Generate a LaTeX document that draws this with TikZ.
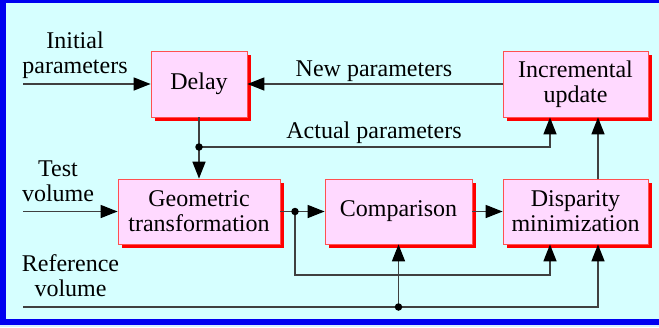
\documentclass[tikz,border=0pt]{standalone}
\usepackage{fontspec}
\setmainfont{LiberationSerif-Regular.ttf}[BoldFont=LiberationSerif-Bold.ttf]
\usetikzlibrary{arrows.meta,shadows}
\definecolor{bgcyan}{RGB}{214,255,255}
\definecolor{pagetint}{RGB}{214,240,255}
\definecolor{boxpink}{RGB}{255,217,255}
\definecolor{frameblue}{RGB}{0,0,240}
\definecolor{edgered}{RGB}{255,80,80}
\definecolor{wirecol}{RGB}{64,64,64}
\begin{document}
\begin{tikzpicture}[x=1pt,y=-1pt,
  txt/.style={font=\rmfamily\fontsize{24}{25}\selectfont, align=center, inner sep=0pt},
  block/.style={txt, draw=edgered, line width=0.8pt, fill=boxpink,
    general shadow={fill=red, shadow xshift=4pt, shadow yshift=-4pt}},
  wire/.style={draw=wirecol, line width=1.5pt},
  flow/.style={wire, -{Triangle[length=17pt,width=13pt,color=black]}},
  junction/.style={circle, fill=black, inner sep=0pt, minimum size=7.5pt}
]
% page and framed panel
\useasboundingbox (0,0) rectangle (659,327);
\fill[pagetint] (0,0) rectangle (659,327);
\fill[frameblue] (0,0) rectangle (659,325);
\fill[bgcyan] (6,3) rectangle (659,319);

% processing blocks
\node[block, minimum width=96pt, minimum height=66pt]  (delay) at (199,84) {Delay};
\node[block, minimum width=145pt, minimum height=66pt] (incr)  at (575.5,84) {Incremental\\update};
\node[block, minimum width=162pt, minimum height=65pt] (geom)  at (199,211.5) {Geometric\\transformation};
\node[block, minimum width=147pt, minimum height=65pt] (comp)  at (398.5,211.5) {Comparison};
\node[block, minimum width=145pt, minimum height=65pt] (disp)  at (575.5,211.5) {Disparity\\minimization};

% free labels
\node[txt] (initlbl) at (75,55.5) {Initial\\parameters};
\node[txt, anchor=base] (newlbl) at (374,76) {New parameters};
\node[txt, anchor=base] (actlbl) at (374,138) {Actual parameters};
\node[txt] (testlbl) at (58,181) {Test\\volume};
\node[txt] (reflbl) at (70.5,276) {Reference\\volume};

% inputs and junctions
\coordinate (ipin) at (23,84);
\coordinate (tvin) at (23,211.5);
\coordinate (rvin) at (23,307);
\coordinate (act) at (199,147);
\coordinate (split) at (295,211.5);
\coordinate (refsplit) at (comp.south |- rvin);

% connectors
\draw[flow] (ipin) -- (delay.west);
\draw[flow] (incr.west) -- (delay.east);
\draw[flow] (delay.south) -- (geom.north);
\draw[flow] (act) -| ([xshift=-25.5pt]incr.south);
\draw[flow] ([xshift=22.5pt]disp.north) -- ([xshift=22.5pt]incr.south);
\draw[flow] (tvin) -- (geom.west);
\draw[wire] (geom.east) -- (split);
\draw[flow] (split) -- (comp.west);
\draw[flow] (comp.east) -- (disp.west);
\draw[flow] (split) -- (split |- 0,275) -| ([xshift=-25.5pt]disp.south);
\draw[flow] (rvin) -| ([xshift=22.5pt]disp.south);
\draw[flow] (refsplit) -- (comp.south);

\node[junction] at (act) {};
\node[junction] at (split) {};
\node[junction] at (refsplit) {};
\end{tikzpicture}
\end{document}
